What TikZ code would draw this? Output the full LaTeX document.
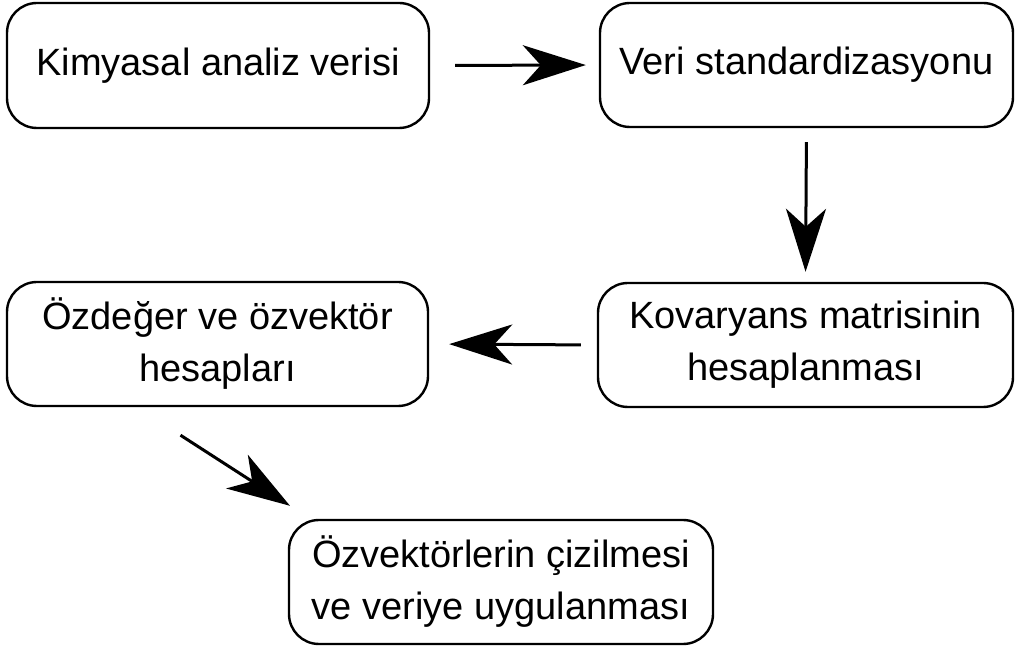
\documentclass[tikz,border=0pt]{standalone}
\usepackage{fontspec}
\setmainfont{Liberation Sans}
\usetikzlibrary{arrows.meta}
\begin{document}
\begin{tikzpicture}[x=1pt,y=1pt,
  box/.style={draw=black, line width=2.4pt, rounded corners=30pt, align=center,
    font=\fontsize{38}{52}\selectfont, inner sep=0pt},
  conn/.style={line width=3pt, -{Stealth[length=63pt,width=40pt,inset=18pt]}}]
\useasboundingbox (0,0) rectangle (1017,648);
\node[box, minimum width=422pt, minimum height=125pt] (b1) at (218,582.5) {Kimyasal analiz verisi};
\node[box, minimum width=413pt, minimum height=124pt] (b2) at (806.5,583) {Veri standardizasyonu};
\node[box, minimum width=415pt, minimum height=124pt] (b3) at (805.5,303) {Kovaryans matrisinin\\hesaplanması};
\node[box, minimum width=421pt, minimum height=124pt] (b4) at (217.5,304) {Özdeğer ve özvektör\\hesapları};
\node[box, minimum width=424pt, minimum height=124pt] (b5) at (501,66) {Özvektörlerin çizilmesi\\ve veriye uygulanması};
\draw[conn, shorten <=25pt, shorten >=13pt] (b1.east) -- (b2.west);
\draw[conn, shorten <=14pt, shorten >=10pt] (b2.south) -- (b3.north);
\draw[conn, shorten <=16pt, shorten >=20pt] (b3.west) -- (b4.east);
\draw[conn] ([xshift=-37pt,yshift=-28pt]b4.south) -- ([xshift=-211pt,yshift=13pt]b5.north);
\end{tikzpicture}
\end{document}
